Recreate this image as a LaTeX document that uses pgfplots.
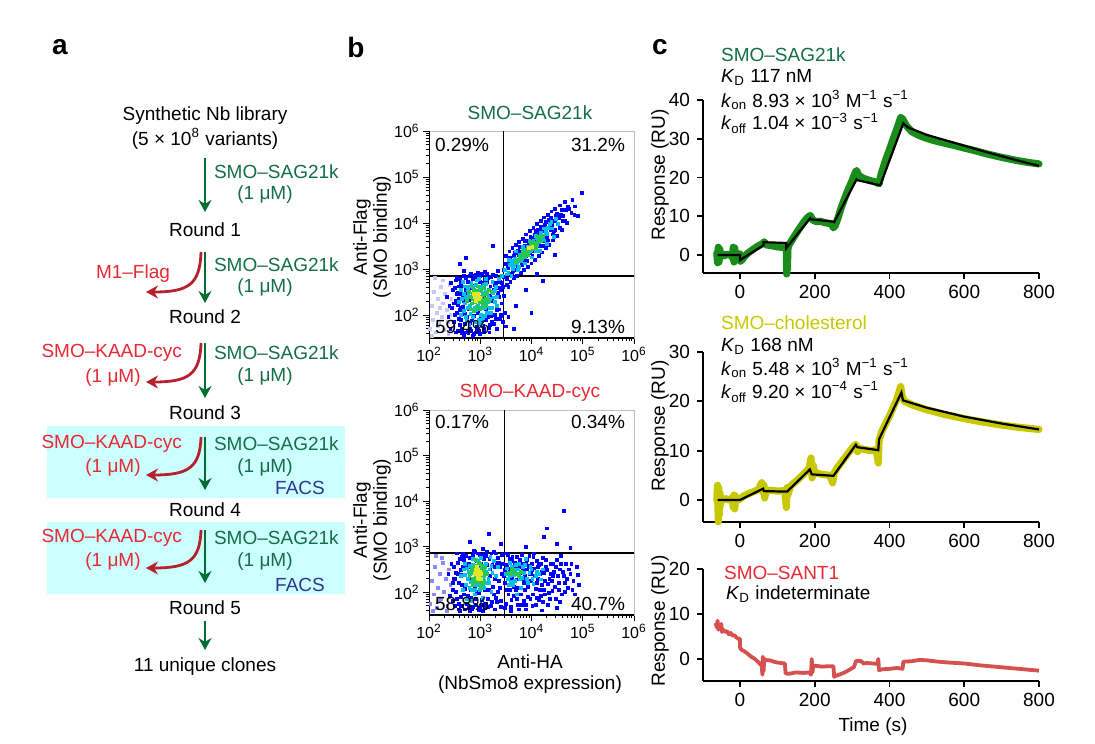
\documentclass[border=0pt]{standalone}
\usepackage{fontspec}
\setmainfont{Liberation Sans}
\usepackage{pgfplots}
\pgfplotsset{compat=1.18}
\usetikzlibrary{arrows.meta}
\definecolor{tgreen}{RGB}{20,110,70}
\definecolor{agreen}{RGB}{0,110,50}
\definecolor{tred}{RGB}{232,40,50}
\definecolor{ared}{RGB}{180,35,45}
\definecolor{boxcyan}{RGB}{204,255,255}
\definecolor{facsblue}{RGB}{45,55,145}
\definecolor{tyellow}{RGB}{200,200,0}
\definecolor{dgreen}{RGB}{25,140,25}
\definecolor{dyellow}{RGB}{200,200,0}
\definecolor{dred}{RGB}{215,80,80}
\definecolor{sblue}{RGB}{0,0,255}
\definecolor{smid}{RGB}{60,60,255}
\definecolor{scyan}{RGB}{0,190,235}
\definecolor{sgreen}{RGB}{40,200,80}
\definecolor{syellow}{RGB}{225,230,40}
\definecolor{sfaint}{RGB}{200,200,245}
\pgfplotsset{
  facsax/.style={scale only axis, width=102.5pt, xmin=2, xmax=6, ymin=1.5, ymax=6,
    xtick={2,3,4,5,6}, ytick={2,3,4,5,6},
    xticklabels={10\textsuperscript{2},10\textsuperscript{3},10\textsuperscript{4},10\textsuperscript{5},10\textsuperscript{6}},
    yticklabels={10\textsuperscript{2},10\textsuperscript{3},10\textsuperscript{4},10\textsuperscript{5},10\textsuperscript{6}},
    minor xtick={2.301,2.477,2.602,2.699,2.778,2.845,2.903,2.954,3.301,3.477,3.602,3.699,3.778,3.845,3.903,3.954,4.301,4.477,4.602,4.699,4.778,4.845,4.903,4.954,5.301,5.477,5.602,5.699,5.778,5.845,5.903,5.954},
    minor ytick={1.602,1.699,1.778,1.845,1.903,1.954,2.301,2.477,2.602,2.699,2.778,2.845,2.903,2.954,3.301,3.477,3.602,3.699,3.778,3.845,3.903,3.954,4.301,4.477,4.602,4.699,4.778,4.845,4.903,4.954,5.301,5.477,5.602,5.699,5.778,5.845,5.903,5.954},
    tick pos=left, tick align=outside, major tick length=3pt, minor tick length=1.7pt,
    axis line style={gray!50, line width=0.4pt},
    tick style={black, line width=0.5pt},
    every tick label/.append style={font=\fontsize{8}{9}\selectfont, inner sep=1.5pt},
    anchor=south west},
  dots/.style={only marks, mark=square*, mark size=0.72pt, color=#1, mark options={line width=0pt}},
  sprax/.style={scale only axis, width=168.2pt, xmin=-100, xmax=800, anchor=south west,
    axis x line*=bottom, axis y line*=left, xtick={0,200,400,600,800},
    tick align=outside, major tick length=2.8pt,
    axis line style={line width=0.9pt}, tick style={line width=0.9pt, black},
    every tick label/.append style={font=\fontsize{9.5}{11}\selectfont},
    /pgf/number format/assume math mode=true, clip=false}
}
\begin{document}
\begin{tikzpicture}[font=\fontsize{9.5}{11}\selectfont]
\path[use as bounding box] (0,0) rectangle (547.5pt,-371.5pt);

% ---------- b top ----------
\begin{axis}[facsax, at={(214.5pt,-169pt)}, height=103.5pt]
\addplot[dots=sfaint] coordinates {(2.02,1.70) (2.05,2.20) (2.08,1.90) (2.10,2.50) (2.13,1.62) (2.15,2.05) (2.18,2.35) (2.20,1.80) (2.23,2.60) (2.25,1.95) (2.28,2.25) (2.30,1.68) (2.32,2.45) (2.35,2.10) (2.37,1.85) (2.40,2.65) (2.42,2.00) (2.44,2.35) (2.46,1.72) (2.12,2.80) (2.27,2.75) (2.05,1.55) (2.38,1.58) (2.22,2.15) (2.17,1.75)};
\addplot[dots=sblue] coordinates {(2.52,2.31) (2.55,2.05) (2.58,2.62) (2.61,1.78) (2.63,2.45) (2.66,2.18) (2.68,2.84) (2.70,1.62) (2.72,2.55) (2.74,1.95) (2.76,2.71) (2.78,2.12) (2.80,1.70) (2.82,2.90) (2.84,1.88) (2.86,2.64) (2.88,1.58) (2.90,2.78) (2.93,1.75) (2.95,2.92) (2.97,1.66) (3.00,2.85) (3.02,1.82) (3.05,2.70) (3.07,1.63) (3.10,2.93) (3.12,1.90) (3.15,2.80) (3.17,1.72) (3.20,2.62) (3.22,1.98) (3.25,2.88) (3.27,1.80) (3.30,2.70) (3.32,2.10) (3.35,2.95) (3.38,1.92) (3.40,2.55) (3.43,2.25) (3.46,2.82) (2.48,1.85) (2.50,2.58) (2.57,1.65) (2.60,2.78) (2.65,1.60) (2.69,2.95) (3.08,2.42) (3.36,2.40) (2.54,2.45) (3.48,2.05) (3.55,2.60) (3.50,1.75) (2.45,2.15) (2.43,2.70)
(3.50,3.10) (3.52,2.78) (3.58,3.25) (3.62,2.88) (3.68,3.35) (3.72,2.98) (3.75,3.30) (3.78,3.48) (3.82,3.08) (3.85,3.42) (3.88,3.60) (3.92,3.18) (3.95,3.55) (3.98,3.70) (4.02,3.28) (4.05,3.68) (4.08,3.82) (4.12,3.40) (4.15,3.76) (4.18,3.92) (4.22,3.50) (4.25,3.86) (4.28,4.02) (4.32,3.62) (4.35,3.95) (4.38,4.10) (4.42,3.75) (4.45,4.05) (4.50,4.20) (4.55,3.90) (4.60,4.28) (4.65,4.05) (4.72,4.35) (4.78,4.22) (4.85,4.36) (4.98,4.65) (4.90,4.15)
(2.73,3.24) (3.55,1.95) (4.23,2.73) (3.90,2.55) (4.10,2.90) (3.70,2.20) (2.60,3.10) (4.45,3.30) (3.25,3.50) (3.65,1.70) (4.00,2.05)
(2.56,2.22) (2.59,1.92) (2.62,2.70) (2.64,1.70) (2.67,2.38) (2.70,2.02) (2.73,2.80) (2.75,1.66) (2.78,2.32) (2.81,1.82) (2.84,2.58) (2.87,1.98) (2.89,2.85) (2.92,1.62) (2.94,2.52) (2.96,2.05) (2.99,2.72) (3.01,1.95) (3.04,2.58) (3.06,1.76) (3.09,2.78) (3.11,2.12) (3.13,2.90) (3.16,1.95) (3.19,2.42) (3.21,2.82) (3.23,1.85) (3.26,2.55) (3.29,2.00) (3.31,2.85) (3.34,2.48) (3.37,2.12) (3.39,2.72) (3.41,1.98) (3.44,2.60) (2.51,2.00) (2.53,2.75) (2.68,1.55) (2.86,1.55) (3.00,1.58) (3.18,1.62) (3.33,1.70) (2.57,2.48) (3.47,2.42)
(3.46,2.98) (3.54,3.02) (3.60,3.12) (3.64,2.95) (3.66,3.28) (3.70,3.08) (3.74,3.40) (3.77,3.18) (3.80,3.38) (3.84,3.15) (3.87,3.50) (3.90,3.28) (3.93,3.62) (3.97,3.35) (4.00,3.62) (4.04,3.40) (4.07,3.74) (4.11,3.50) (4.13,3.85) (4.17,3.62) (4.20,3.82) (4.24,3.60) (4.27,3.95) (4.30,3.72) (4.34,4.06) (4.37,3.85) (4.41,3.95) (4.44,3.82) (4.48,4.15) (4.53,4.10) (4.57,4.18) (4.62,4.15) (4.68,4.28)
(3.50,3.28) (3.53,2.65) (3.57,3.38) (3.59,2.72) (3.63,3.45) (3.66,2.80) (3.70,3.52) (3.72,2.85) (3.76,3.58) (3.79,2.92) (3.83,3.66) (3.86,2.98) (3.90,3.75) (3.93,3.05) (3.97,3.82) (4.00,3.12) (4.04,3.90) (4.06,3.20) (4.11,3.98) (4.14,3.28) (4.18,4.05) (4.21,3.36) (4.25,4.12) (4.28,3.45) (4.32,4.18) (4.35,3.52) (4.39,4.25) (4.42,3.62) (4.46,4.30) (4.50,3.72) (4.56,4.38) (4.60,3.85) (4.66,4.45) (4.70,4.00) (4.80,4.50) (4.84,4.18)
(3.55,3.12) (3.60,2.90) (3.67,3.20) (3.73,3.05) (3.81,3.35) (3.87,3.22) (3.94,3.50) (4.01,3.38) (4.08,3.66) (4.15,3.50) (4.23,3.85) (4.30,3.68) (4.38,4.00) (4.45,3.85) (4.52,4.12) (4.62,4.05) (4.73,4.30)
(2.35,2.40) (2.38,1.95) (2.40,2.20) (2.42,1.70) (2.46,2.55) (2.49,2.25) (2.52,1.62) (2.55,2.80) (2.60,2.10) (2.63,1.90) (2.66,2.62) (2.69,2.30) (2.71,1.80) (2.74,2.48) (2.77,1.60) (2.79,2.85) (2.83,1.65) (2.85,2.78) (2.91,2.88) (2.94,1.68) (3.03,2.90) (3.08,1.70) (3.14,2.72) (3.19,1.78) (3.24,2.30) (3.28,2.65) (3.31,1.92) (3.36,2.58) (3.40,2.00) (3.42,2.70) (3.44,1.85) (2.58,2.35) (2.62,2.15)};
\addplot[dots=scyan] coordinates {(2.65,2.35) (2.68,2.08) (2.71,2.62) (2.74,1.88) (2.77,2.45) (2.80,2.20) (2.83,2.70) (2.85,1.95) (2.88,2.52) (2.91,2.10) (2.94,2.75) (2.97,1.90) (3.00,2.60) (3.03,2.15) (3.06,2.48) (3.09,1.98) (3.12,2.68) (3.15,2.28) (3.18,2.55) (3.21,2.05) (3.24,2.72) (3.27,2.38) (3.30,2.60) (3.33,2.20) (2.70,2.25) (2.79,1.78) (3.02,1.80) (3.14,2.05) (2.62,2.55) (3.36,2.78)
(3.42,2.85) (3.48,2.98) (3.55,2.92) (3.58,3.08) (3.64,3.00) (3.68,3.22) (3.72,3.12) (3.78,3.30) (3.82,3.22) (3.86,3.40) (3.90,3.32) (3.94,3.48) (3.98,3.40) (4.02,3.58) (4.06,3.50) (4.10,3.68) (4.14,3.58) (4.18,3.78) (4.22,3.68) (4.27,3.88) (4.31,3.76) (4.36,3.98) (4.40,3.88) (4.47,4.08) (4.52,3.98) (3.62,3.18) (3.75,3.05) (3.96,3.62) (4.08,3.38) (4.25,3.62)
(2.72,2.40) (2.75,2.15) (2.78,2.62) (2.81,2.02) (2.86,2.38) (2.89,2.15) (2.92,2.65) (2.96,2.20) (2.99,2.52) (3.04,2.30) (3.07,2.65) (3.10,2.15) (3.16,2.40) (3.19,2.15) (3.25,2.48) (3.29,2.28) (2.76,2.55) (3.01,2.00) (3.12,2.50) (2.68,2.45)
(3.52,2.88) (3.66,3.08) (3.80,3.18) (3.84,3.30) (3.92,3.38) (4.00,3.42) (4.04,3.62) (4.12,3.62) (4.16,3.70) (4.20,3.62) (4.29,3.80) (4.33,3.90)
(3.56,3.20) (3.61,2.85) (3.69,3.38) (3.74,2.98) (3.83,3.48) (3.88,3.12) (3.96,3.60) (4.01,3.25) (4.09,3.72) (4.16,3.40) (4.24,3.88) (4.30,3.55) (4.39,4.02) (4.44,3.70)
(2.58,2.28) (2.63,2.00) (2.67,2.72) (2.72,1.95) (2.85,2.60) (2.90,1.85) (2.98,2.78) (3.05,1.92) (3.11,2.78) (3.20,2.35) (3.23,2.15) (3.28,2.52) (3.32,2.40) (2.75,2.35)};
\addplot[dots=sgreen] coordinates {(2.80,2.40) (2.84,2.25) (2.87,2.55) (2.90,2.32) (2.93,2.18) (2.96,2.48) (2.99,2.28) (3.02,2.40) (3.05,2.22) (3.08,2.58) (3.11,2.35) (3.14,2.45) (2.82,2.12) (2.95,2.62) (3.18,2.30) (2.78,2.50) (3.00,2.12) (3.22,2.50)
(3.80,3.28) (3.85,3.35) (3.88,3.25) (3.92,3.42) (3.96,3.36) (4.00,3.50) (4.03,3.44) (4.06,3.56) (4.10,3.52) (4.14,3.64) (4.18,3.60) (3.70,3.15) (3.75,3.20) (4.22,3.72)
(2.86,2.45) (2.91,2.52) (3.04,2.32) (2.97,2.30) (3.06,2.44) (2.89,2.28) (3.98,3.52) (3.90,3.36) (4.05,3.48)
(3.78,3.22) (3.83,3.40) (3.94,3.30) (3.99,3.58) (4.08,3.45) (4.12,3.70) (3.86,3.28) (4.01,3.48)
(2.74,2.30) (2.83,2.62) (2.88,2.08) (3.10,2.28) (3.16,2.55) (3.01,2.55) (2.85,2.35) (3.12,2.20)};
\addplot[dots=syellow] coordinates {(2.90,2.40) (2.93,2.36) (2.96,2.42) (2.92,2.30) (2.98,2.35) (2.88,2.45) (3.95,3.45) (4.02,3.48) (2.95,2.45) (3.00,2.38) (2.91,2.35)};
\addplot[black, line width=0.6pt] coordinates {(3.45,1.5) (3.45,6)};
\addplot[black, line width=0.6pt] coordinates {(2,2.85) (6,2.85)};
\draw[black, line width=0.7pt] (rel axis cs:0,0) -- (rel axis cs:0,1);
\draw[black, line width=0.7pt] (rel axis cs:0,0) -- (rel axis cs:1,0);
\end{axis}

% ---------- b bottom ----------
\begin{axis}[facsax, at={(214.5pt,-307.5pt)}, height=102.5pt]
\addplot[dots=smid!60] coordinates {(2.03,1.75) (2.06,2.25) (2.09,1.95) (2.12,2.55) (2.15,1.65) (2.18,2.10) (2.21,2.40) (2.24,1.85) (2.27,2.65) (2.30,2.00) (2.33,2.30) (2.36,1.70) (2.39,2.50) (2.42,2.15) (2.14,2.80) (2.26,2.75) (2.08,1.58) (2.35,1.58) (2.20,1.80) (2.40,1.90)};
\addplot[dots=sblue] coordinates {(2.50,2.30) (2.53,2.00) (2.56,2.65) (2.59,1.75) (2.62,2.48) (2.65,2.15) (2.67,2.85) (2.70,1.62) (2.73,2.58) (2.76,1.92) (2.79,2.75) (2.82,2.05) (2.85,1.68) (2.88,2.90) (2.91,1.85) (2.94,2.68) (2.97,1.60) (3.00,2.82) (3.03,1.72) (3.06,2.95) (3.09,1.65) (3.12,2.80) (3.15,1.85) (3.18,2.72) (3.21,1.70) (3.24,2.60) (3.27,1.95) (3.30,2.85) (3.33,1.78) (3.36,2.65) (3.39,2.10) (3.42,2.40) (2.47,1.80) (2.49,2.55) (2.58,1.62) (2.64,2.78) (2.46,2.05)
(3.48,2.20) (3.50,1.75) (3.52,2.60) (3.55,1.95) (3.58,2.45) (3.60,1.68) (3.63,2.78) (3.66,2.12) (3.69,2.55) (3.72,1.85) (3.75,2.35) (3.78,2.70) (3.81,1.72) (3.84,2.48) (3.87,2.05) (3.90,2.62) (3.93,1.90) (3.96,2.80) (3.99,2.25) (4.02,1.70) (4.05,2.52) (4.08,2.08) (4.11,2.68) (4.14,1.82) (4.17,2.40) (4.20,2.15) (4.23,2.75) (4.26,1.95) (4.29,2.55) (4.32,1.72) (4.35,2.30) (4.38,2.62) (4.41,2.02) (4.44,2.45) (4.47,1.85) (4.50,2.70) (4.53,2.20) (4.56,2.50) (4.60,1.95) (4.64,2.35) (4.68,2.62) (4.72,2.10) (4.76,2.40) (4.82,2.25) (4.88,2.55) (4.93,2.15) (3.62,2.30) (3.85,2.20) (4.00,2.40) (4.12,2.30) (4.25,2.42) (3.70,2.05) (3.95,2.58) (4.40,2.25) (3.54,2.82) (4.05,2.85) (4.58,2.80)
(4.63,3.79) (4.30,3.40) (4.24,3.21) (3.17,3.28) (4.76,2.98) (3.40,3.05) (2.80,3.10) (3.90,3.00) (4.50,3.05)
(2.52,2.42) (2.55,1.85) (2.58,2.20) (2.61,2.72) (2.63,1.70) (2.66,2.55) (2.69,1.95) (2.72,2.80) (2.75,2.30) (2.77,1.66) (2.80,2.55) (2.83,1.88) (2.86,2.82) (2.89,2.10) (2.92,1.72) (2.95,2.85) (2.98,1.98) (3.01,2.62) (3.04,1.82) (3.07,2.72) (3.10,2.05) (3.13,2.88) (3.16,1.68) (3.19,2.35) (3.22,2.85) (3.25,2.12) (3.28,2.55) (3.31,1.88) (3.34,2.75) (3.37,2.25) (3.40,1.80) (3.44,2.62) (2.48,2.30) (2.60,1.58) (2.80,1.58) (3.05,1.58) (3.28,1.62)
(3.49,2.48) (3.53,2.05) (3.57,2.72) (3.61,1.82) (3.64,2.42) (3.67,2.65) (3.71,2.28) (3.73,1.72) (3.77,2.55) (3.79,1.95) (3.83,2.62) (3.86,1.80) (3.88,2.35) (3.91,2.50) (3.94,2.12) (3.97,2.40) (4.01,2.62) (4.03,1.95) (4.07,2.35) (4.10,1.88) (4.13,2.55) (4.16,2.05) (4.19,2.62) (4.22,1.78) (4.27,2.25) (4.31,2.48) (4.34,1.98) (4.37,2.40) (4.43,2.62) (4.46,2.12) (4.52,2.35) (4.55,1.78) (4.62,2.45) (4.66,2.00) (4.70,2.30) (4.78,2.62) (4.85,1.95) (3.60,1.58) (3.90,1.62) (4.20,1.60) (4.50,1.65)
(2.38,2.40) (2.41,1.92) (2.44,2.62) (2.46,2.20) (2.51,1.70) (2.54,2.85) (2.57,2.40) (2.62,1.90) (2.65,2.38) (2.68,2.70) (2.71,2.08) (2.74,1.75) (2.78,2.62) (2.81,2.30) (2.84,1.62) (2.87,2.48) (2.90,2.88) (2.93,2.00) (2.96,2.58) (3.00,1.65) (3.03,2.82) (3.08,2.42) (3.11,1.75) (3.14,2.60) (3.17,2.05) (3.20,2.50) (3.23,1.78) (3.26,2.88) (3.29,2.30) (3.32,2.65) (3.35,2.00) (3.38,2.55) (3.41,1.68) (3.43,2.82)
(3.46,2.35) (3.48,1.65) (3.51,2.85) (3.56,2.52) (3.59,2.05) (3.62,2.68) (3.65,1.92) (3.68,2.40) (3.71,2.78) (3.74,2.10) (3.76,1.62) (3.80,2.42) (3.82,2.82) (3.86,2.30) (3.89,1.72) (3.92,2.70) (3.95,2.25) (3.98,1.85) (4.01,2.48) (4.04,2.78) (4.08,1.72) (4.11,2.20) (4.15,2.60) (4.18,1.92) (4.21,2.45) (4.24,2.05) (4.28,2.70) (4.33,2.18) (4.36,1.85) (4.42,2.35) (4.48,2.55) (4.54,2.05) (4.58,2.62) (4.65,2.20) (4.74,2.50) (4.80,2.05) (4.90,2.38)};
\addplot[dots=scyan] coordinates {(2.62,2.35) (2.66,2.05) (2.70,2.62) (2.74,1.85) (2.78,2.45) (2.82,2.22) (2.86,2.72) (2.90,1.95) (2.94,2.55) (2.98,2.15) (3.02,2.75) (3.06,1.88) (3.10,2.58) (3.14,2.20) (3.18,2.50) (3.22,2.00) (3.26,2.68) (3.30,2.35) (3.34,2.55) (2.72,2.15) (2.84,1.80) (3.08,2.35) (2.68,2.50) (3.20,2.78)
(3.50,2.40) (3.56,2.15) (3.62,2.55) (3.68,2.25) (3.74,2.50) (3.80,2.10) (3.86,2.42) (3.92,2.30) (3.98,2.55) (4.04,2.18) (4.10,2.45) (3.58,2.65) (3.72,1.95) (3.90,2.72) (4.18,2.28)
(2.76,2.30) (2.80,2.58) (2.84,2.05) (2.88,2.42) (2.92,2.15) (2.96,2.68) (3.00,2.20) (3.04,2.55) (3.08,2.10) (3.12,2.45) (3.16,2.30) (3.24,2.42) (2.70,2.38) (3.00,2.05)
(3.54,2.30) (3.66,2.38) (3.70,2.60) (3.78,2.30) (3.84,2.55) (3.96,2.42) (4.02,2.30) (4.14,2.40) (3.64,2.15)
(2.74,2.52) (2.79,2.10) (2.86,2.60) (2.90,2.05) (3.00,2.62) (3.06,2.30) (3.12,2.62) (3.18,2.20) (3.22,2.58) (2.81,2.40)
(3.52,2.52) (3.60,2.22) (3.68,2.45) (3.76,2.62) (3.82,2.32) (3.88,2.60) (3.94,2.20) (4.00,2.50) (4.08,2.35) (4.22,2.50) (3.58,2.35) (3.72,2.40)};
\addplot[dots=sgreen] coordinates {(2.82,2.45) (2.86,2.30) (2.89,2.58) (2.92,2.38) (2.95,2.22) (2.98,2.52) (3.01,2.35) (3.04,2.46) (3.07,2.25) (3.10,2.55) (2.85,2.15) (2.97,2.65) (3.13,2.40) (2.79,2.35) (3.02,2.10) (2.92,2.70) (3.60,2.40) (3.76,2.35) (3.66,2.48)
(2.88,2.50) (2.94,2.48) (3.05,2.38) (2.99,2.20) (2.90,2.30) (3.08,2.48)
(2.84,2.52) (3.03,2.58) (3.06,2.18) (2.88,2.20) (3.62,2.48) (3.70,2.40) (3.80,2.45) (3.56,2.42)};
\addplot[dots=syellow] coordinates {(2.94,2.42) (2.97,2.38) (3.00,2.45) (2.95,2.32) (3.02,2.40) (2.91,2.48) (2.98,2.28) (2.93,2.55) (2.96,2.50) (3.01,2.30) (2.90,2.40)};
\addplot[black, line width=0.6pt] coordinates {(3.47,1.5) (3.47,6)};
\addplot[black, line width=0.6pt] coordinates {(2,2.86) (6,2.86)};
\draw[black, line width=0.7pt] (rel axis cs:0,0) -- (rel axis cs:0,1);
\draw[black, line width=0.7pt] (rel axis cs:0,0) -- (rel axis cs:1,0);
\end{axis}

% ---------- c1 ----------
\begin{axis}[sprax, at={(351.3pt,-136.5pt)}, height=86.5pt, ymin=-4.65, ymax=40, ytick={0,10,20,30,40}]
\addplot[dgreen, line width=3.6pt, line join=round, line cap=round] coordinates {(-62,0.5) (-60,-2) (-58,2) (-56,-1.8) (-54,1.5) (-52,-0.5) (-48,0.3) (-42,-0.2) (-35,0.2) (-28,0) (-22,0.3) (-20,-0.8) (-18,2) (-16,-1.8) (-14,1.8) (-12,-1) (-10,0.5) (-5,0.2) (0,0.3) (1,-1.6) (6,-1.2) (12,-0.4) (20,0.4) (30,1.1) (40,1.8) (50,2.4) (60,2.9) (65,3.4) (70,2.6) (80,2.5) (90,2.3) (100,2.1) (110,2) (120,1.9) (124,1.6) (125,-4.9) (126,2) (127,-3.8) (128,1.5) (131,2.6) (140,4) (150,5.5) (160,7) (170,8.4) (180,9.6) (188,10.2) (195,9) (205,8.6) (215,8.7) (225,8.4) (235,8.2) (245,8) (250,7) (255,7.6) (262,9.5) (270,12) (280,14.6) (290,17) (300,19.2) (308,21.2) (312,21.8) (318,20.5) (330,19.8) (345,19.3) (360,18.9) (372,18.4) (378,21) (390,24.6) (400,27.2) (410,30) (420,32.6) (430,35.5) (436,35) (445,33.4) (460,31.8) (480,30.8) (500,30.1) (520,29.5) (550,28.8) (580,28.1) (600,27.6) (630,26.9) (660,26.1) (700,25.2) (740,24.4) (770,23.9) (800,23.5)};
\addplot[black, line width=1.1pt] coordinates {(-60,0) (0,0) (0,-1.3) (63,2.5) (63,3.3) (124,3.1) (124,1.8) (188,9.5) (190,9.2) (250,8.6) (252,8.5) (312,19.5) (314,19.3) (375,18) (377,18.4) (437,34) (450,32.9) (500,31) (550,29.6) (600,28.2) (650,26.8) (700,25.5) (750,24.2) (800,23)};
\end{axis}

% ---------- c2 ----------
\begin{axis}[sprax, at={(351.3pt,-261pt)}, height=85pt, ymin=-4.46, ymax=30, ytick={0,10,20,30}]
\addplot[dyellow, line width=3.6pt, line join=round, line cap=round] coordinates {(-62,0) (-60,3) (-58,-4.4) (-57,2.5) (-55,-3) (-54,1.5) (-52,-1) (-50,0.5) (-45,0) (-40,0.3) (-30,0) (-25,0.2) (-20,0.5) (-18,-1.5) (-16,1) (-14,-1.8) (-12,0.8) (-10,0) (-5,0) (0,0.2) (10,0.8) (20,1.2) (30,1.5) (40,1.8) (50,2.2) (58,3.5) (62,1.5) (64,3) (66,0.4) (70,1.8) (80,2) (100,1.8) (120,1.9) (124,-1.5) (126,2.5) (128,1) (135,2.8) (150,3.8) (170,5.2) (185,6.5) (190,8.5) (193,4.5) (196,7) (200,5.5) (220,5.2) (240,5) (248,3.5) (252,5.5) (260,6.5) (280,8.5) (300,10.5) (310,11.3) (315,9.8) (320,10.5) (330,10.3) (350,10) (365,10.2) (370,7.5) (372,12) (380,14) (400,17) (420,20.5) (430,23) (434,21) (440,20) (460,19.3) (500,18.3) (550,17.3) (600,16.5) (650,15.8) (700,15.2) (750,14.7) (800,14.3)};
\addplot[black, line width=1.1pt] coordinates {(-60,0) (0,0) (62,2.3) (64,1.8) (126,1.7) (187,6.2) (192,5.2) (250,4.9) (310,11.2) (314,10.7) (370,10.1) (372,12.3) (432,21.8) (436,20.2) (500,18.7) (600,16.9) (700,15.5) (800,14.3)};
\end{axis}

% ---------- c3 ----------
\begin{axis}[sprax, at={(351.3pt,-340.5pt)}, height=56pt, ymin=-4.9, ymax=20, ytick={0,10,20}]
\addplot[dred, line width=1.9pt, line join=round] coordinates {(-65,8) (-62,7) (-60,8.5) (-58,6.5) (-55,7.5) (-52,6.5) (-50,7.8) (-48,6) (-45,6.5) (-40,6) (-35,6.2) (-30,5.5) (-25,5.8) (-20,5.2) (-15,5.3) (-10,4.8) (-5,4.5) (0,4.5) (0,2.5) (5,2) (10,1.8) (20,1.2) (30,0.5) (40,0) (50,-0.8) (55,-1.2) (58,-1.5) (60,-3.5) (61,0.5) (63,-2.8) (65,0) (70,-0.3) (80,-0.3) (90,-0.6) (100,-0.8) (110,-0.9) (120,-1) (122,-3.2) (130,-3.3) (150,-3) (170,-3.1) (185,-3) (190,-3.5) (192,0) (194,-3) (196,-1.5) (200,-1.5) (220,-1.7) (240,-1.6) (250,-1.6) (252,-4) (255,-3.8) (265,-3.5) (280,-3) (295,-2.3) (305,-1.8) (310,-0.5) (315,-0.4) (325,-0.5) (330,-1) (340,-0.9) (355,-1) (368,-1.1) (370,0) (372,-2.5) (380,-2.3) (400,-2.2) (420,-2) (435,-2.2) (437,-0.6) (460,-0.5) (480,-0.2) (500,-0.3) (530,-0.6) (560,-0.8) (600,-1) (640,-1.4) (680,-1.7) (720,-2) (760,-2.3) (800,-2.6)};
\end{axis}

\begin{scope}[x=0.5pt, y=-0.5pt]
% panel labels
\node[font=\fontsize{14}{16}\selectfont\bfseries] at (60,47) {a};
\node[font=\fontsize{14}{16}\selectfont\bfseries] at (356,47) {b};
\node[font=\fontsize{14}{16}\selectfont\bfseries] at (660,47) {c};
% ---- panel a ----
\fill[boxcyan] (47,426) rectangle (345,498);
\fill[boxcyan] (47,522) rectangle (345,594);
\node at (205,116) {Synthetic Nb library};
\node at (205,139) {(5 × 10\textsuperscript{8} variants)};
\node at (205,230) {Round 1};
\node at (205,317) {Round 2};
\node at (205,413) {Round 3};
\node at (205,510) {Round 4};
\node at (205,608) {Round 5};
\node at (205,667) {11 unique clones};
\tikzset{garr/.style={agreen, line width=1.4pt, -{Stealth[length=6pt,width=6.5pt]}},
         rarr/.style={ared, line width=1.4pt, -{Stealth[length=6pt,width=6.5pt]}}}
\draw[garr] (205,158) -- (205,212);
\draw[garr] (205,252) -- (205,303);
\draw[garr] (205,343) -- (205,398);
\draw[garr] (205,437) -- (205,490);
\draw[garr] (205,530) -- (205,583);
\draw[garr] (205,621) -- (205,650);
\draw[rarr] (201,252) .. controls (200,285) and (188,292) .. (146,292);
\draw[rarr] (201,343) .. controls (200,375) and (188,382) .. (146,382);
\draw[rarr] (201,437) .. controls (200,468) and (188,475) .. (146,475);
\draw[rarr] (201,530) .. controls (200,561) and (188,568) .. (146,568);
\node[anchor=west, tgreen] at (207,172) {SMO–SAG21k};
\node[tgreen] at (265,195) {(1 μM)};
\node[anchor=west, tgreen] at (207,265) {SMO–SAG21k};
\node[tgreen] at (265,288) {(1 μM)};
\node[tred] at (133,274) {M1–Flag};
\node[anchor=west, tgreen] at (207,353) {SMO–SAG21k};
\node[tgreen] at (265,377) {(1 μM)};
\node[anchor=east, tred] at (189,353) {SMO–KAAD-cyc};
\node[tred] at (113,378) {(1 μM)};
\node[anchor=west, tgreen] at (207,444) {SMO–SAG21k};
\node[tgreen] at (265,468) {(1 μM)};
\node[anchor=east, tred] at (189,444) {SMO–KAAD-cyc};
\node[tred] at (113,468) {(1 μM)};
\node[facsblue] at (300,488) {FACS};
\node[anchor=west, tgreen] at (207,538) {SMO–SAG21k};
\node[tgreen] at (265,562) {(1 μM)};
\node[anchor=east, tred] at (189,538) {SMO–KAAD-cyc};
\node[tred] at (113,562) {(1 μM)};
\node[facsblue] at (300,585) {FACS};
% ---- panel b ----
\node[tgreen] at (530,113) {SMO–SAG21k};
\node[tred] at (530,393) {SMO–KAAD-cyc};
\node[rotate=90] at (362,237) {Anti-Flag};
\node[rotate=90] at (382,237) {(SMO binding)};
\node[rotate=90] at (362,520) {Anti-Flag};
\node[rotate=90] at (382,520) {(SMO binding)};
\node at (530,662) {Anti-HA};
\node at (530,685) {(NbSmo8 expression)};
\node[anchor=west] at (428,145) {0.29\%};
\node[anchor=east] at (632,145) {31.2\%};
\node[anchor=west] at (428,327) {59.4\%};
\node[anchor=east] at (632,327) {9.13\%};
\node[anchor=west] at (428,422) {0.17\%};
\node[anchor=east] at (632,422) {0.34\%};
\node[anchor=west] at (428,604) {58.8\%};
\node[anchor=east] at (632,604) {40.7\%};
% ---- panel c ----
\node[rotate=90] at (660,175) {Response (RU)};
\node[rotate=90] at (660,426) {Response (RU)};
\node[rotate=90] at (660,621) {Response (RU)};
\node at (873,727) {Time (s)};
\node[anchor=west, tgreen] at (714,55) {SMO–SAG21k};
\node[anchor=west] at (714,77) {\textit{K}\textsubscript{D} 117 nM};
\node[anchor=west] at (714,100) {\textit{k}\textsubscript{on} 8.93 × 10\textsuperscript{3} M\textsuperscript{−1} s\textsuperscript{−1}};
\node[anchor=west] at (714,123) {\textit{k}\textsubscript{off} 1.04 × 10\textsuperscript{−3} s\textsuperscript{−1}};
\node[anchor=west, tyellow] at (714,323) {SMO–cholesterol};
\node[anchor=west] at (714,346) {\textit{K}\textsubscript{D} 168 nM};
\node[anchor=west] at (714,368) {\textit{k}\textsubscript{on} 5.48 × 10\textsuperscript{3} M\textsuperscript{−1} s\textsuperscript{−1}};
\node[anchor=west] at (714,392) {\textit{k}\textsubscript{off} 9.20 × 10\textsuperscript{−4} s\textsuperscript{−1}};
\node[anchor=west, tred] at (717,573) {SMO–SANT1};
\node[anchor=west] at (719,594) {\textit{K}\textsubscript{D} indeterminate};
\end{scope}
\end{tikzpicture}
\end{document}
